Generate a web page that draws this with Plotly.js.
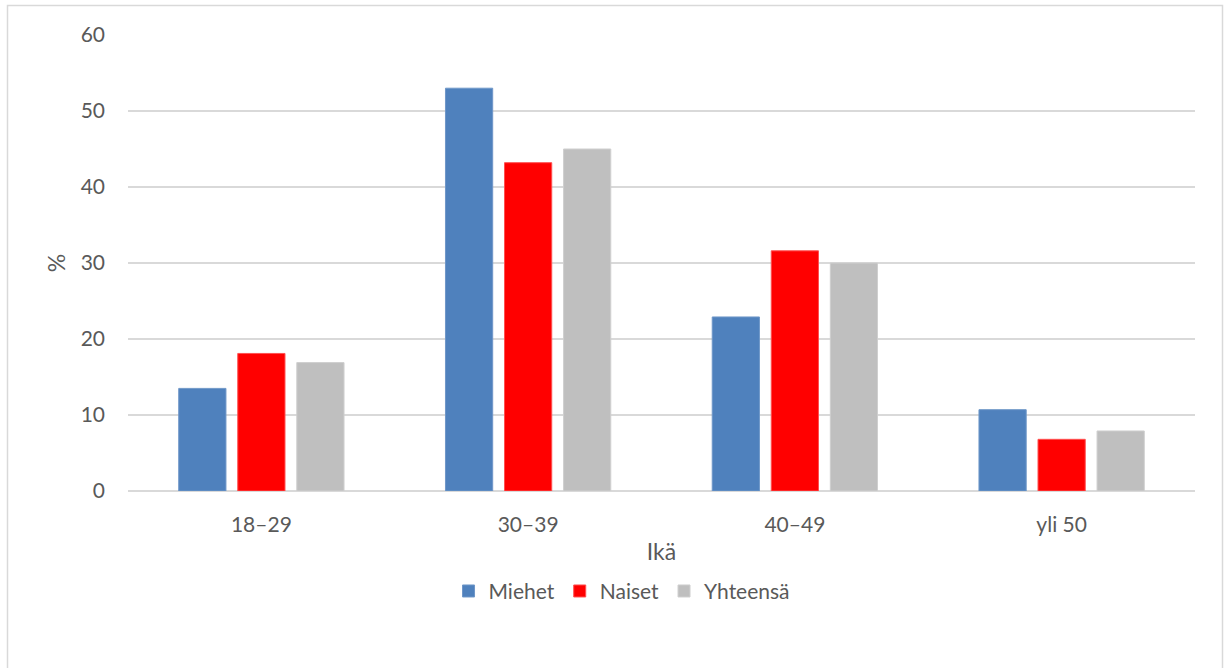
<!DOCTYPE html>
<html>
<head>
<meta charset="utf-8">
<script src="https://cdn.plot.ly/plotly-3.0.1.min.js"></script>
<style>html,body{margin:0;padding:0;background:#fff;}#chart{width:1227px;height:668px;}</style>
</head>
<body>
<div id="chart"></div>
<script>
const categories = ["18–29", "30–39", "40–49", "yli 50"];
const miehet = [13.5, 53, 22.9, 10.7];
const naiset = [18.1, 43.2, 31.6, 6.8];
const yhteensa = [16.9, 45, 30, 7.9];
const yTicks = [0, 10, 20, 30, 40, 50, 60];

const font = {family: "Lato, 'Open Sans', sans-serif", size: 21, color: "#595959"};
const titleFont = {family: "Lato, 'Open Sans', sans-serif", size: 23, color: "#595959"};
function bar(name, y, color, line) {
  return {type: "bar", name: name, x: categories, y: y,
    marker: {color: color, line: {color: line, width: 1}}, hoverinfo: "skip"};
}
const data = [
  bar("Miehet", miehet, "#4f81bd", "#6f97c8"),
  bar("Naiset", naiset, "#ff0000", "#ff5050"),
  bar("Yhteensä", yhteensa, "#bfbfbf", "#cfcfcf")
];
const layout = {
  width: 1227, height: 668,
  margin: {l: 128, r: 32, t: 35, b: 177},
  paper_bgcolor: "#fff", plot_bgcolor: "#fff",
  font: font,
  barmode: "group", bargap: 0.336, bargroupgap: 0.2,
  showlegend: true,
  legend: {orientation: "h", x: 0.463, xanchor: "center", y: -0.22, yanchor: "middle",
    font: font, itemwidth: 30, tracegroupgap: 0},
  xaxis: {showgrid: false, zeroline: false, showline: false, ticks: "",
    ticklabelstandoff: 19, tickfont: font,
    title: {text: "Ikä", font: titleFont, standoff: 8}},
  yaxis: {range: [0, 60], tickvals: yTicks, showgrid: true, gridcolor: "#d9d9d9", gridwidth: 1.5,
    zeroline: true, zerolinecolor: "#d9d9d9", zerolinewidth: 1.5, showline: false, ticks: "",
    ticklabelstandoff: 22, tickfont: font,
    title: {text: "%", font: titleFont, standoff: 8}},
  shapes: [{type: "rect", xref: "paper", yref: "paper",
    x0: (7.5 - 128) / 1067, x1: (1222.5 - 128) / 1067,
    y0: (491 - 680) / 456, y1: (491 - 5.5) / 456,
    line: {color: "#d9d9d9", width: 1.5}, fillcolor: "rgba(0,0,0,0)", layer: "below"}]
};
Plotly.newPlot("chart", data, layout, {displayModeBar: false, staticPlot: true});
</script>
</body>
</html>
